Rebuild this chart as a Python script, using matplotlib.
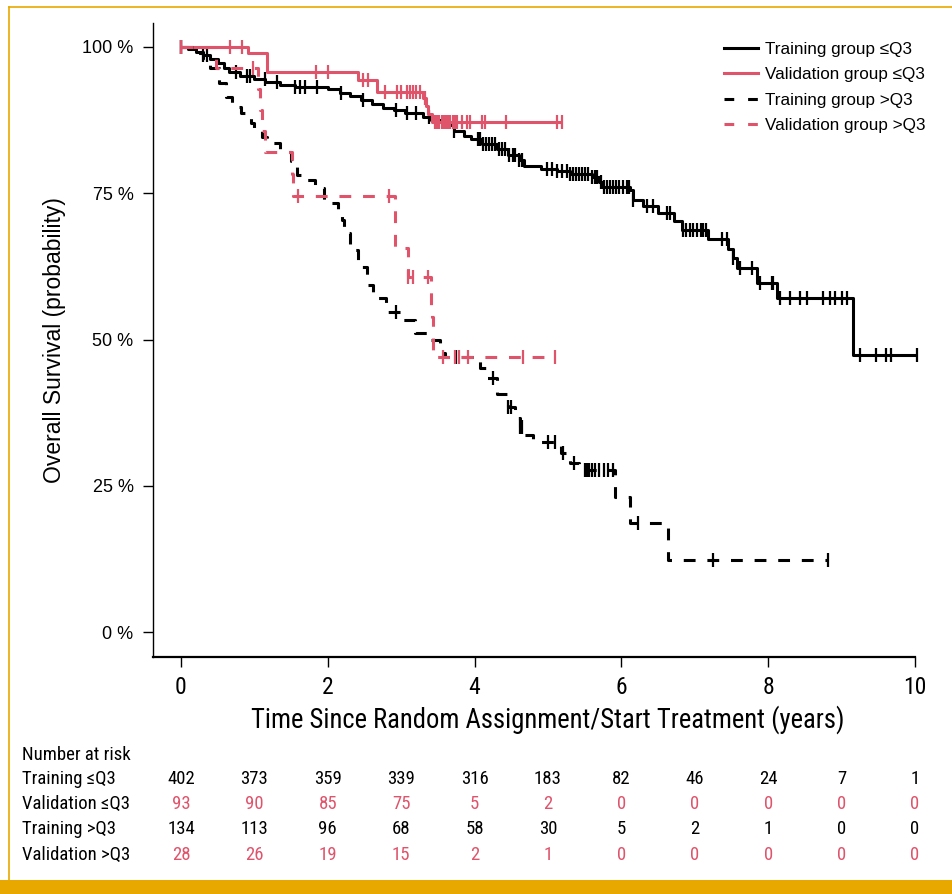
import matplotlib
matplotlib.use('Agg')
import matplotlib.pyplot as plt
import matplotlib.transforms as mtransforms
from matplotlib.lines import Line2D
import numpy as np

plt.rcParams['lines.scale_dashes'] = False

RED = '#DF536B'
GOLD = '#E8A800'
NARROW = ['Roboto Condensed', 'DejaVu Sans']
REGULAR = ['Liberation Sans', 'DejaVu Sans']

########## data (years, survival %)
train_lo_t = [0, 0.1, 0.2, 0.3, 0.4, 0.5, 0.58, 0.65, 0.8, 1.0, 1.15, 1.35, 1.55, 2.0,
              2.17, 2.3, 2.45, 2.6, 2.75, 2.9, 3.05, 3.3, 3.4, 3.6, 3.72, 3.85, 3.95,
              4.1, 4.3, 4.45, 4.6, 4.68, 4.9, 5.12, 5.3, 5.6, 5.7, 5.74, 6.12, 6.16,
              6.3, 6.5, 6.72, 6.82, 7.18, 7.45, 7.52, 7.57, 7.85, 8.12, 9.16]
train_lo_s = [100, 99.6, 99.1, 98.6, 97.9, 97.2, 96.4, 95.7, 95.0, 94.5, 94.1, 93.5, 93.1, 92.8,
              92.2, 91.6, 91.0, 90.2, 89.6, 89.2, 88.7, 88.0, 87.5, 86.6, 85.6, 84.8, 84.3,
              83.5, 82.5, 81.6, 80.6, 79.6, 79.2, 78.8, 78.3, 77.8, 76.9, 76.1, 75.6, 73.9,
              72.8, 71.6, 70.3, 68.8, 67.2, 65.4, 63.9, 62.3, 59.7, 57.1, 47.4]
train_lo_end = 10.03
train_lo_cens = [0, 0.3, 0.35, 0.75, 0.9, 0.94, 1.14, 1.31, 1.55, 1.62, 1.69, 1.85, 2.18,
                 2.48, 2.93, 3.08, 3.2, 3.38, 3.72, 4.05, 4.08, 4.12, 4.16, 4.2, 4.24,
                 4.28, 4.33, 4.38, 4.42, 4.47, 4.52, 4.55, 4.6, 4.65, 4.98, 5.05, 5.12,
                 5.19, 5.26, 5.3, 5.34, 5.38, 5.42, 5.46, 5.5, 5.55, 5.6, 5.64, 5.67,
                 5.72, 5.76, 5.8, 5.84, 5.88, 5.92, 5.97, 6.02, 6.07, 6.11, 6.16, 6.35,
                 6.43, 6.62, 6.66, 6.84, 6.88, 6.93, 6.98, 7.03, 7.08, 7.11, 7.15, 7.37,
                 7.44, 7.52, 7.62, 7.78, 7.89, 8.05, 8.07, 8.16, 8.3, 8.43, 8.53, 8.75,
                 8.84, 8.91, 9.0, 9.07, 9.25, 9.47, 9.6, 9.67, 10.03]

valid_lo_t = [0, 0.91, 1.17, 2.41, 2.67, 3.3, 3.34, 3.37, 3.42]
valid_lo_s = [100, 98.9, 95.7, 94.4, 92.3, 91.2, 89.9, 88.5, 87.2]
valid_lo_end = 5.19
valid_lo_cens = [0, 0.67, 0.83, 1.84, 2.0, 2.48, 2.55, 2.78, 2.94, 3.0, 3.08, 3.12, 3.16,
                 3.2, 3.26, 3.32, 3.46, 3.49, 3.52, 3.55, 3.58, 3.61, 3.64, 3.67, 3.7,
                 3.73, 3.76, 3.83, 3.89, 3.94, 4.1, 4.14, 4.43, 5.12, 5.19]

train_hi_t = [0, 0.2, 0.3, 0.4, 0.52, 0.62, 0.7, 0.82, 0.95, 1.0, 1.1, 1.17, 1.35, 1.5,
              1.58, 1.68, 1.83, 1.95, 2.14, 2.2, 2.22, 2.3, 2.41, 2.53, 2.62, 2.8, 3.0,
              3.19, 3.4, 3.53, 3.6, 4.07, 4.17, 4.3, 4.46, 4.55, 4.62, 4.68, 4.8, 5.18,
              5.3, 5.42, 5.91, 6.12, 6.64]
train_hi_s = [100, 99.0, 97.8, 96.4, 93.8, 91.5, 89.7, 88.7, 87.0, 85.8, 84.6, 83.6, 82.1, 80.5,
              78.1, 77.2, 75.9, 73.4, 71.6, 70.4, 68.2, 65.3, 62.4, 59.3, 57.1, 54.7, 53.3,
              51.1, 49.9, 47.7, 47.0, 45.1, 43.4, 40.6, 38.4, 36.6, 35.0, 33.6, 32.5, 30.6,
              28.9, 27.7, 23.1, 18.6, 12.3]
train_hi_end = 8.81
train_hi_cens = [0, 2.93, 3.75, 4.25, 4.46, 4.5, 4.62, 4.65, 5.0, 5.1, 5.2, 5.35, 5.5,
                 5.53, 5.56, 5.6, 5.64, 5.7, 5.76, 5.82, 5.88, 6.23, 7.25, 8.81]

valid_hi_t = [0, 0.48, 1.05, 1.08, 1.11, 1.14, 1.51, 1.53, 2.92, 3.09, 3.4, 3.42, 3.44]
valid_hi_s = [100, 96.4, 92.9, 89.3, 85.7, 82.1, 78.3, 74.5, 65.6, 60.7, 55.6, 53.8, 47.0]
valid_hi_end = 5.1
valid_hi_cens = [0, 0.98, 1.6, 2.83, 3.09, 3.16, 3.37, 3.57, 3.74, 3.79, 3.91, 4.66, 5.1]

risk_times = [0, 1, 2, 3, 4, 5, 6, 7, 8, 9, 10]
risk_labels = ['Training \u2264Q3', 'Validation \u2264Q3', 'Training >Q3', 'Validation >Q3']
risk_train_lo = [402, 373, 359, 339, 316, 183, 82, 46, 24, 7, 1]
risk_valid_lo = [93, 90, 85, 75, 5, 2, 0, 0, 0, 0, 0]
risk_train_hi = [134, 113, 96, 68, 58, 30, 5, 2, 1, 0, 0]
risk_valid_hi = [28, 26, 19, 15, 2, 1, 0, 0, 0, 0, 0]

legend_labels = ['Training group \u2264Q3', 'Validation group \u2264Q3',
                 'Training group >Q3', 'Validation group >Q3']


def surv_at(ts, ss, t):
    i = np.searchsorted(ts, t, side='right') - 1
    return np.array(ss)[i]


def km(ax, ts, ss, end, cens, color, ls):
    x = list(ts) + [end]
    y = list(ss) + [ss[-1]]
    ax.step(x, y, where='post', color=color, lw=2.2, linestyle=ls,
            solid_capstyle='butt', dash_capstyle='butt')
    cy = [surv_at(ts, ss, c) for c in cens]
    ax.plot(cens, cy, linestyle='none', marker='|', color=color,
            markersize=9.5, markeredgewidth=1.6)


fig = plt.figure(figsize=(9.52, 8.94), dpi=100)
ax = fig.add_axes([153 / 952, (894 - 657) / 894, 1 - 153 / 952, (657 - 23) / 894])

DASH = (0, (8.5, 8.5))
km(ax, train_lo_t, train_lo_s, train_lo_end, train_lo_cens, 'black', '-')
km(ax, valid_lo_t, valid_lo_s, valid_lo_end, valid_lo_cens, RED, '-')
km(ax, train_hi_t, train_hi_s, train_hi_end, train_hi_cens, 'black', DASH)
km(ax, valid_hi_t, valid_hi_s, valid_hi_end, valid_hi_cens, RED, DASH)

ax.set_xlim(-0.381, 10.504)
ax.set_ylim(-4.27, 104.1)
for s in ['top', 'right']:
    ax.spines[s].set_visible(False)
ax.spines['bottom'].set_bounds(-0.381, 10)
ax.spines['left'].set_linewidth(1.0)
ax.spines['bottom'].set_linewidth(1.6)

ax.set_xticks([0, 2, 4, 6, 8, 10])
ax.set_yticks([0, 25, 50, 75, 100])
ax.set_yticklabels(['0 %', '25 %', '50 %', '75 %', '100 %'], family=REGULAR, fontsize=13)
ax.set_xticklabels(['0', '2', '4', '6', '8', '10'], family=NARROW, fontsize=17)
ax.tick_params(axis='both', length=7, width=1.0, pad=7)

ax.text(5, 0.1946, 'Time Since Random Assignment/Start Treatment (years)',
        transform=mtransforms.blended_transform_factory(ax.transData, fig.transFigure),
        ha='center', va='center', family=NARROW, fontsize=19.2)
fig.text(55 / 952, (894 - 340) / 894, 'Overall Survival (probability)', rotation=90,
         ha='center', va='center', family=REGULAR, fontsize=16.5)

handles = [Line2D([], [], color='black', lw=2.2),
           Line2D([], [], color=RED, lw=2.2),
           Line2D([], [], color='black', lw=2.2, linestyle=(0, (7, 10))),
           Line2D([], [], color=RED, lw=2.2, linestyle=(0, (7, 10)))]
leg = ax.legend(handles, legend_labels, loc='upper right', bbox_to_anchor=(0.986, 0.995),
                frameon=False, prop={'family': REGULAR, 'size': 12.3},
                handlelength=2.0, handletextpad=0.4, labelspacing=0.62)

# number at risk table
tr = mtransforms.blended_transform_factory(ax.transData, fig.transFigure)
fig.text(22 / 952, (894 - 755) / 894, 'Number at risk', ha='left', va='center',
         family=NARROW, fontsize=13.5)
rows = [risk_train_lo, risk_valid_lo, risk_train_hi, risk_valid_hi]
row_colors = ['black', RED, 'black', RED]
row_y = [779, 804, 829, 855]
for lab, vals, col, yy in zip(risk_labels, rows, row_colors, row_y):
    fig.text(22 / 952, (894 - yy) / 894, lab, ha='left', va='center',
             family=NARROW, fontsize=13.5)
    for t, v in zip(risk_times, vals):
        ax.text(t, (894 - yy) / 894, str(v), transform=tr, ha='center', va='center',
                color=col, family=NARROW, fontsize=13.5)

# journal frame
fig.add_artist(Line2D([9 / 952, 9 / 952], [0, (894 - 7) / 894], color=GOLD, lw=1.2,
                      transform=fig.transFigure))
fig.add_artist(Line2D([9 / 952, 1], [(894 - 7) / 894, (894 - 7) / 894], color=GOLD, lw=1.2,
                      transform=fig.transFigure))
fig.add_artist(plt.Rectangle((0, 0), 1, 14 / 894, color=GOLD, transform=fig.transFigure,
                             lw=0))

fig.savefig('out.png', dpi=100)
